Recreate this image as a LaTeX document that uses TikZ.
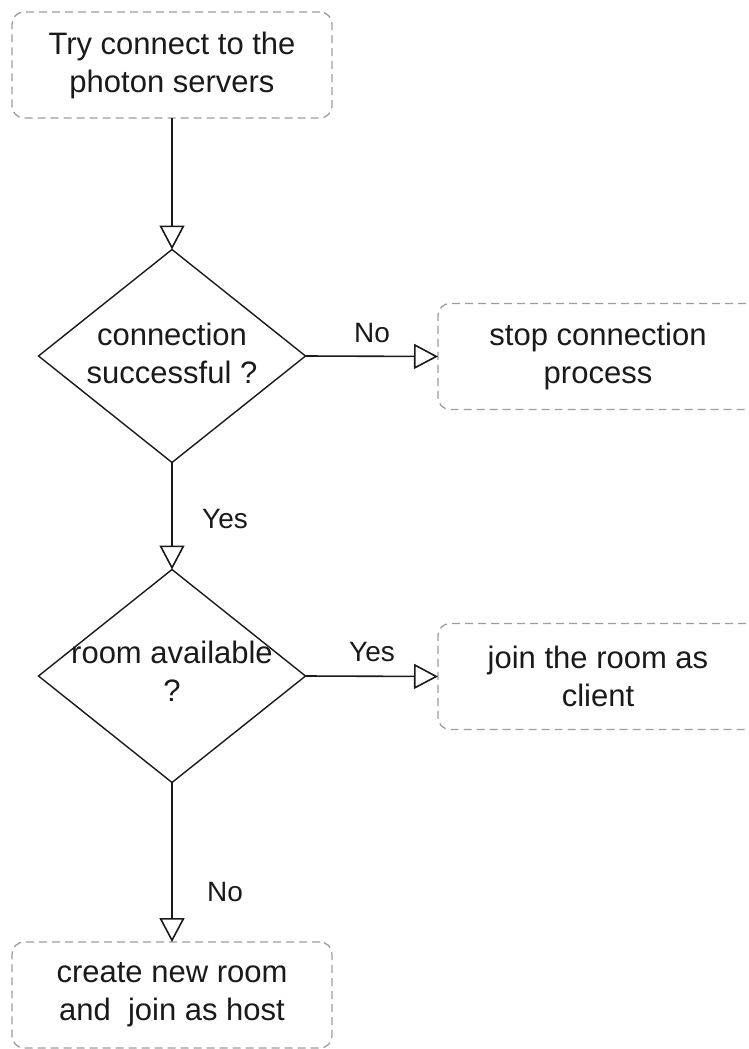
\documentclass[tikz,border=0pt]{standalone}
\usepackage{fontspec}
\setmainfont{Liberation Sans}
\usetikzlibrary{arrows.meta,shapes.geometric}

\definecolor{boxline}{HTML}{9E9E9E}
\definecolor{ink}{HTML}{1A1A1A}

\tikzset{
  every node/.style={outer sep=0pt},
  stepbox/.style={draw=boxline, line width=1.3pt, dash pattern=on 8pt off 5pt,
    rounded corners=12pt, minimum width=320pt, minimum height=106pt,
    align=center, font=\fontsize{31}{38}\selectfont, text=ink},
  decision/.style={draw=ink, line width=1.4pt, diamond,
    minimum width=267pt, minimum height=213pt, inner sep=0pt},
  dtext/.style={align=center, font=\fontsize{31}{38}\selectfont, text=ink},
  flow/.style={draw=ink, line width=1.6pt,
    -{Triangle[open, length=24pt, width=25pt, line width=1.6pt, fill=white]}},
  edgelabel/.style={font=\fontsize{28}{32}\selectfont, text=ink}
}

\begin{document}
\begin{tikzpicture}[x=1pt, y=-1pt]
  \clip (0,0) rectangle (749,1049);
  \fill[white] (0,0) rectangle (749,1049);

  % process boxes
  \node[stepbox] (start) at (172,65) {Try connect to the\\photon servers};
  \node[stepbox] (stop) at (598,356.5) {stop connection\\process};
  \node[stepbox] (join) at (598,676.5) {join the room as\\client};
  \node[stepbox] (create) at (172,995) {create new room\\and\ \ join as host};

  % decisions
  \node[decision] (conn) at (172,356) {};
  \node[dtext] (conntext) at (172,353) {connection\\successful ?};
  \node[decision] (room) at (172,676) {};
  \node[dtext] (roomtext) at (172,671) {room available\\?};

  % connectors
  \draw[flow] (start.south) -- (conn.north);
  \draw[flow] (conn.east) -- (stop.west);
  \draw[flow] (conn.south) -- (room.north);
  \draw[flow] (room.east) -- (join.west);
  \draw[flow] (room.south) -- (create.north);

  % edge labels
  \node[edgelabel] (lno1) at (372,333) {No};
  \node[edgelabel] (lyes1) at (225,519) {Yes};
  \node[edgelabel] (lyes2) at (372,652) {Yes};
  \node[edgelabel] (lno2) at (225,892) {No};
\end{tikzpicture}
\end{document}
